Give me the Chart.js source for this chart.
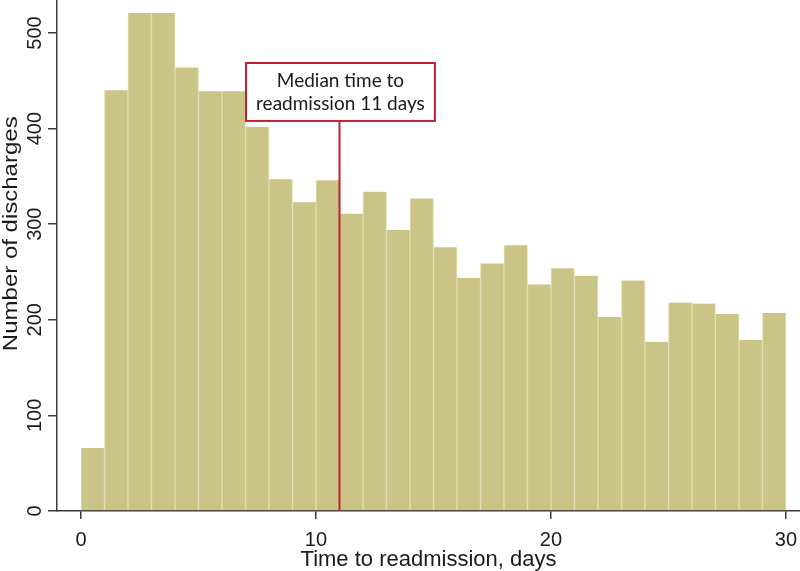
<!DOCTYPE html>
<html>
<head>
<meta charset="utf-8">
<script src="https://cdn.jsdelivr.net/npm/chart.js@4/dist/chart.umd.min.js"></script>
<style>
  html, body { margin: 0; padding: 0; background: #ffffff; }
  #wrap { width: 800px; height: 571px; position: relative; }
</style>
</head>
<body>
<div id="wrap"><canvas id="c"></canvas></div>
<script>
// ---- data ----
const binStarts = [0,1,2,3,4,5,6,7,8,9,10,11,12,13,14,15,16,17,18,19,20,21,22,23,24,25,26,27,28,29];
const discharges = [66,440,521,521,464,439,439,402,347,323,346,311,334,294,327,276,244,259,278,237,254,246,203,241,177,218,217,206,179,207];
const xTickValues = [0,10,20,30];
const yTickValues = [0,100,200,300,400,500];
const medianDays = 11;
const annotationLines = ['Median time to', 'readmission 11 days'];
const xTitle = 'Time to readmission, days';
const yTitle = 'Number of discharges';

// annotation box extent in data units
const boxX = [7.02, 15.06];
const boxY = [408, 468.6];
// y-title centre (data units)
const yTitleCenter = 290;

const AXIS = '#3a3a3a';
const TEXT = '#1a1a1a';
const BAR = '#CBC487';
const SEP = '#E2DDB0';
const RED = '#C0202E';
const SANS = '"Liberation Sans", Arial, sans-serif';

const points = binStarts.map((s, i) => ({ x: s + 0.5, y: discharges[i] }));

const annotationPlugin = {
  id: 'medianAnnot',
  afterDatasetsDraw(chart) {
    const { ctx, scales: { x, y } } = chart;
    const lx = x.getPixelForValue(medianDays);
    const left = x.getPixelForValue(boxX[0]);
    const right = x.getPixelForValue(boxX[1]);
    const top = y.getPixelForValue(boxY[1]);
    const bottom = y.getPixelForValue(boxY[0]);
    ctx.save();
    ctx.strokeStyle = RED;
    ctx.lineWidth = 2;
    ctx.beginPath();
    ctx.moveTo(lx, bottom);
    ctx.lineTo(lx, y.getPixelForValue(0));
    ctx.stroke();
    ctx.fillStyle = '#ffffff';
    ctx.fillRect(left, top, right - left, bottom - top);
    ctx.strokeRect(left, top, right - left, bottom - top);
    ctx.fillStyle = TEXT;
    ctx.font = '19px Lato, "Open Sans", sans-serif';
    ctx.textAlign = 'center';
    ctx.textBaseline = 'middle';
    const cx = (left + right) / 2;
    const h = bottom - top;
    ctx.fillText(annotationLines[0], cx, top + h * 0.30);
    ctx.fillText(annotationLines[1], cx, top + h * 0.71);
    ctx.restore();
  }
};

const yLabelPlugin = {
  id: 'yLabels',
  afterDraw(chart) {
    const { ctx, scales: { y } } = chart;
    ctx.save();
    ctx.fillStyle = TEXT;
    ctx.font = '20px ' + SANS;
    ctx.textAlign = 'center';
    ctx.textBaseline = 'middle';
    y.ticks.forEach(t => {
      const py = y.getPixelForValue(t.value);
      ctx.save();
      ctx.translate(y.right - 22, py);
      ctx.rotate(-Math.PI / 2);
      ctx.fillText(String(t.value), 0, 0);
      ctx.restore();
    });
    // axis title
    ctx.save();
    ctx.font = '24px ' + SANS;
    ctx.textBaseline = 'alphabetic';
    ctx.translate(y.left + 17, y.getPixelForValue(yTitleCenter));
    ctx.scale(0.85, 1);
    ctx.rotate(-Math.PI / 2);
    ctx.fillText(yTitle, 0, 0);
    ctx.restore();
    ctx.restore();
  }
};

new Chart(document.getElementById('c'), {
  type: 'bar',
  data: {
    datasets: [{
      data: points,
      backgroundColor: BAR,
      borderColor: SEP,
      borderWidth: { left: 1, right: 1, top: 0, bottom: 0 },
      borderSkipped: false,
      barPercentage: 1.0,
      categoryPercentage: 1.0
    }]
  },
  options: {
    responsive: true,
    maintainAspectRatio: false,
    animation: false,
    layout: { padding: 0 },
    plugins: { legend: { display: false }, tooltip: { enabled: false } },
    scales: {
      x: {
        type: 'linear',
        offset: false,
        min: -1.021,
        max: 30.596,
        afterBuildTicks: (s) => { s.ticks = xTickValues.map(v => ({ value: v })); },
        afterFit: (s) => { s.height = 60; s.paddingLeft = 0; s.paddingRight = 0; },
        border: { display: true, color: AXIS, width: 1.5 },
        grid: { offset: false, drawOnChartArea: false, drawTicks: true, tickLength: 8, color: AXIS, lineWidth: 1.5 },
        ticks: {
          color: TEXT,
          font: { family: SANS, size: 20 },
          padding: 9,
          maxRotation: 0,
          autoSkip: false
        },
        title: {
          display: true,
          text: xTitle,
          color: TEXT,
          font: { family: SANS, size: 22 },
          padding: { top: 0, bottom: -2 }
        }
      },
      y: {
        min: 0,
        max: 534.5,
        afterBuildTicks: (s) => { s.ticks = yTickValues.map(v => ({ value: v })); },
        afterFit: (s) => { s.width = 57; s.paddingTop = 0; s.paddingBottom = 0; },
        border: { display: true, color: AXIS, width: 1.5 },
        grid: { offset: false, drawOnChartArea: false, drawTicks: true, tickLength: 9, color: AXIS, lineWidth: 1.5 },
        ticks: { display: false },
        title: { display: false }
      }
    }
  },
  plugins: [annotationPlugin, yLabelPlugin]
});
</script>
</body>
</html>
